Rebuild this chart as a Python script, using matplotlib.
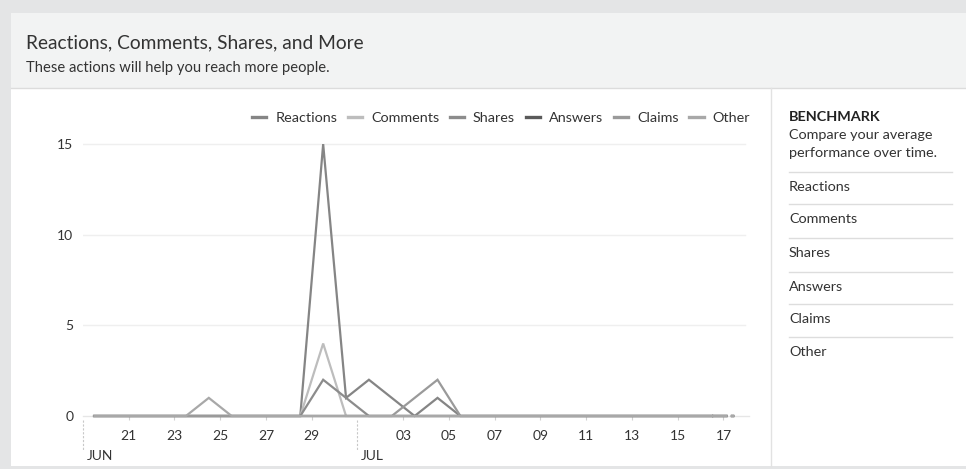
import pandas as pd
import matplotlib.pyplot as plt
import matplotlib.dates as mdates
from matplotlib.lines import Line2D
from matplotlib.patches import Rectangle

plt.rcParams['font.family'] = ['Lato', 'DejaVu Sans']

# daily values, Jun 19 .. Jul 17
days = pd.date_range('2018-06-19 12:00', periods=29, freq='D')
reactions = [0, 0, 0, 0, 0, 0, 0, 0, 0, 0, 15, 1, 2, 1, 0, 1, 0, 0, 0, 0, 0, 0, 0, 0, 0, 0, 0, 0, 0]
comments = [0, 0, 0, 0, 0, 0, 0, 0, 0, 0, 4, 0, 0, 0, 0, 0, 0, 0, 0, 0, 0, 0, 0, 0, 0, 0, 0, 0, 0]
shares = [0, 0, 0, 0, 0, 0, 0, 0, 0, 0, 2, 1, 0, 0, 0, 0, 0, 0, 0, 0, 0, 0, 0, 0, 0, 0, 0, 0, 0]
answers = [0] * 29
claims = [0, 0, 0, 0, 0, 0, 0, 0, 0, 0, 0, 0, 0, 0, 1, 2, 0, 0, 0, 0, 0, 0, 0, 0, 0, 0, 0, 0, 0]
other = [0, 0, 0, 0, 0, 1, 0, 0, 0, 0, 0, 0, 0, 0, 0, 0, 0, 0, 0, 0, 0, 0, 0, 0, 0, 0, 0, 0, 0]

names = ['Reactions', 'Comments', 'Shares', 'Answers', 'Claims', 'Other']
series = [reactions, comments, shares, answers, claims, other]
colors = ['#858585', '#bdbdbd', '#8c8c8c', '#5a5a5a', '#9a9a9a', '#a8a8a8']

tick_days = pd.to_datetime(['2018-06-21', '2018-06-23', '2018-06-25', '2018-06-27', '2018-06-29',
                            '2018-07-03', '2018-07-05', '2018-07-07', '2018-07-09', '2018-07-11',
                            '2018-07-13', '2018-07-15', '2018-07-17'])
months = pd.to_datetime(['2018-06-19', '2018-07-01'])
month_labels = ['JUN', 'JUL']
bench_items = ['Reactions', 'Comments', 'Shares', 'Answers', 'Claims', 'Other']

W, H = 966, 469
fig = plt.figure(figsize=(W / 100, H / 100), dpi=100)
fig.patch.set_facecolor('#e4e5e6')


def fx(px):
    return px / W


def fy(py):
    return 1 - py / H


# card, header band and dividers
fig.patches.append(Rectangle((fx(11), fy(466)), fx(966) - fx(11), fy(13) - fy(466),
                             transform=fig.transFigure, facecolor='white', edgecolor='none', zorder=-2))
fig.patches.append(Rectangle((fx(11), fy(88)), fx(966) - fx(11), fy(13) - fy(88),
                             transform=fig.transFigure, facecolor='#f2f3f3', edgecolor='none', zorder=-1))
fig.lines.append(Line2D([fx(11), 1], [fy(88), fy(88)], transform=fig.transFigure, color='#dcdcdc', lw=1))
fig.lines.append(Line2D([fx(771), fx(771)], [fy(88), fy(466)], transform=fig.transFigure, color='#e2e2e2', lw=1))

fig.text(fx(26), fy(43), 'Reactions, Comments, Shares, and More', fontsize=13.8, color='#333333', va='center')
fig.text(fx(26), fy(68), 'These actions will help you reach more people.', fontsize=10.6, color='#333333',
         va='center')

# chart
x0 = pd.Timestamp('2018-06-19')
ax = fig.add_axes([fx(83), fy(416), fx(748.6) - fx(83), fy(126) - fy(416)])
ax.set_xlim(x0, x0 + pd.Timedelta(days=29.1))
ax.set_ylim(0, 16)
for s in ax.spines.values():
    s.set_visible(False)
ax.axhline(0, color='#e6e6e6', lw=1, zorder=1, clip_on=False)
for v in [5, 10, 15]:
    ax.plot([x0, x0 + pd.Timedelta(days=28.95)], [v, v], color='#efefef', lw=1, zorder=0)

for name, vals, c in zip(names, series, colors):
    ax.plot(days[:-1], vals[:-1], color=c, lw=1.6, clip_on=False, zorder=3, solid_joinstyle='miter')
    ax.plot(days[-2:], vals[-2:], color=c, lw=1.6, clip_on=False, zorder=3, dashes=(7, 1.5, 1.5, 1))

ax.set_yticks([0, 5, 10, 15])
ax.tick_params(axis='y', length=0, pad=7, labelsize=10, labelcolor='#333333')
ax.set_xticks(tick_days)
ax.xaxis.set_major_formatter(mdates.DateFormatter('%d'))
ax.tick_params(axis='x', length=3, color='#d0d0d0', pad=7, labelsize=10, labelcolor='#333333')

for m, lab in zip(months, month_labels):
    ax.plot([m, m], [-0.2, -1.9], color='#c8c8c8', lw=0.8, ls=(0, (2, 1.5)), clip_on=False)
    ax.annotate(lab, xy=(m, 0), xycoords=('data', 'axes fraction'), xytext=(2.5, -28.5),
                textcoords='offset points', fontsize=10, color='#333333', va='center', ha='left')

handles = [Line2D([], [], color=c, lw=2.4) for c in colors]
fig.legend(handles, names, loc='center right', bbox_to_anchor=(fx(750), fy(118)), ncol=6, frameon=False,
           fontsize=10.4, handlelength=1.0, handletextpad=0.6, columnspacing=0.75, labelcolor='#333333',
           borderaxespad=0, borderpad=0)

# benchmark panel
fig.text(fx(789), fy(117), 'BENCHMARK', fontsize=10.4, fontweight='bold', color='#222222', va='center')
fig.text(fx(789), fy(135), 'Compare your average', fontsize=10.4, color='#333333', va='center')
fig.text(fx(789), fy(153), 'performance over time.', fontsize=10.4, color='#333333', va='center')
sep_y = [172, 204, 238, 272, 304, 337]
for yy, item in zip(sep_y, bench_items):
    fig.lines.append(Line2D([fx(789), fx(952)], [fy(yy), fy(yy)], transform=fig.transFigure,
                            color='#dddddd', lw=1))
    fig.text(fx(789), fy(yy + 15), item, fontsize=10.4, color='#333333', va='center')

fig.savefig('out.png', dpi=100, facecolor=fig.get_facecolor())
